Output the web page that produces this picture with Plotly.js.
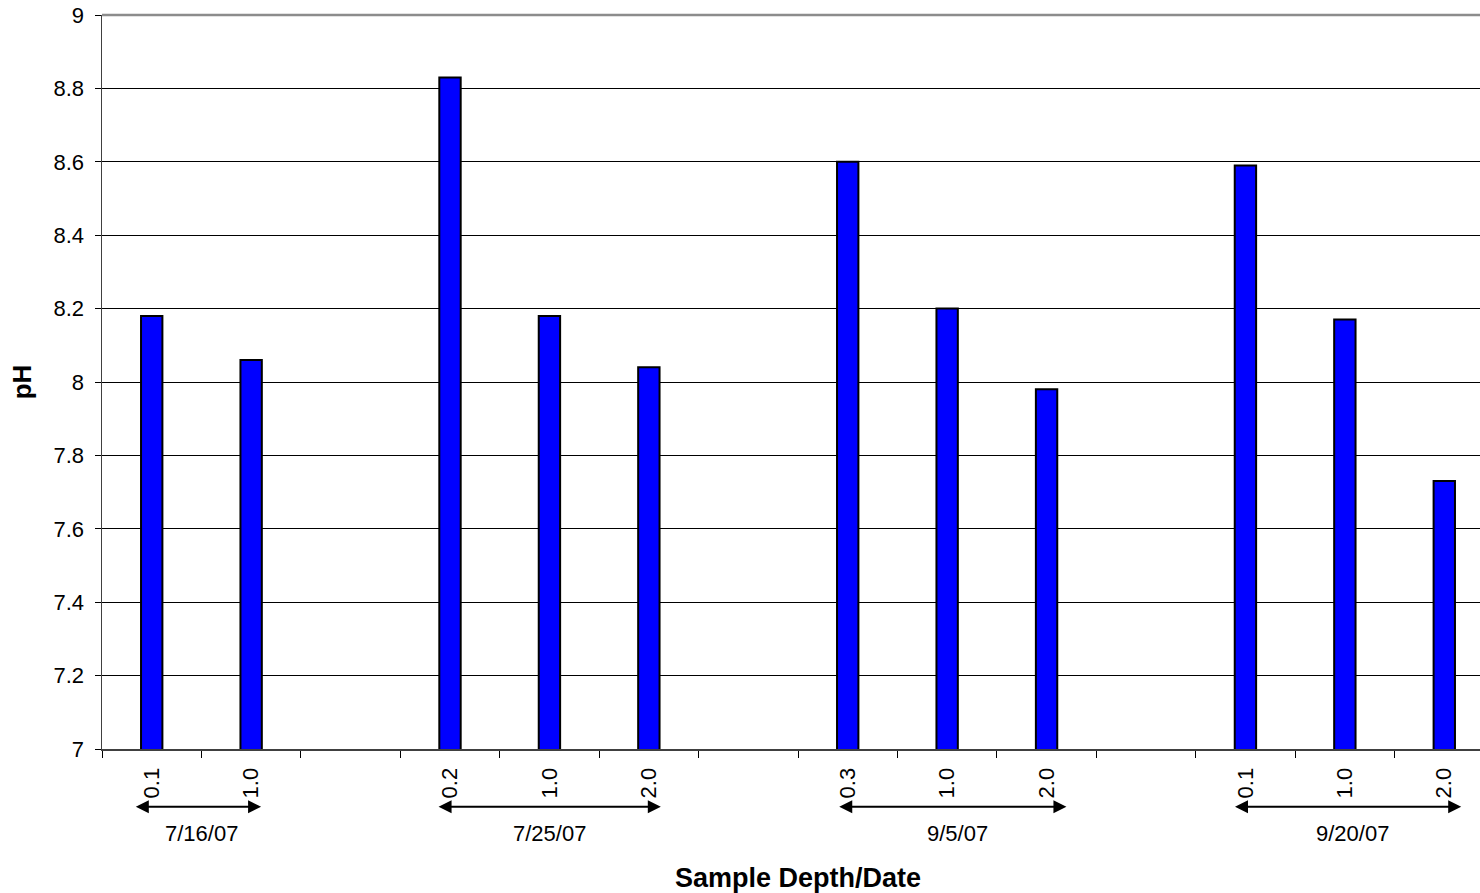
<!DOCTYPE html>
<html>
<head>
<meta charset="utf-8">
<script src="https://cdn.plot.ly/plotly-3.0.1.min.js"></script>
<style>
html, body { margin: 0; padding: 0; overflow: hidden; background: #fff; }
#chart { width: 1494px; height: 893px; }
</style>
</head>
<body>
<div id="chart"></div>
<script>
// Data
const sampleDates = ['7/16/07', '7/16/07', '7/25/07', '7/25/07', '7/25/07', '9/5/07', '9/5/07', '9/5/07', '9/20/07', '9/20/07', '9/20/07'];
const sampleDepths = ['0.1', '1.0', '0.2', '1.0', '2.0', '0.3', '1.0', '2.0', '0.1', '1.0', '2.0'];
const pHValues = [8.18, 8.06, 8.83, 8.18, 8.04, 8.60, 8.20, 7.98, 8.59, 8.17, 7.73];
const dateGroups = ['7/16/07', '7/25/07', '9/5/07', '9/20/07'];

// Slot positions: one empty slot between date groups
const xPos = [];
let slot = 0;
sampleDates.forEach((d, i) => {
  if (i > 0 && d !== sampleDates[i - 1]) slot += 1;
  xPos.push(slot);
  slot += 1;
});
const nSlots = slot;

const trace = {
  type: 'bar',
  x: xPos,
  y: pHValues,
  width: 0.215,
  marker: { color: '#0000FF', line: { color: '#000000', width: 2 } },
  hoverinfo: 'x+y'
};

const font = 'Liberation Sans, Arial, sans-serif';
const annotations = [];
const shapes = [];

// Arrow extents (in slot units beyond first/last bar) and label offsets
const arrowPad = [[-0.175, 0.10], [-0.13, 0.12], [-0.10, 0.20], [-0.12, 0.17]];
const labelShift = [0, 0, 0.1, 0.08];
dateGroups.forEach((g, gi) => {
  const idx = xPos.filter((_, i) => sampleDates[i] === g);
  const first = Math.min(...idx), last = Math.max(...idx);
  const yArrow = -0.0786;
  annotations.push({
    xref: 'x', yref: 'paper', axref: 'x', ayref: 'pixel',
    x: last + arrowPad[gi][1], y: yArrow,
    ax: first + arrowPad[gi][0], ay: 0,
    showarrow: true, arrowside: 'end+start', arrowhead: 2, startarrowhead: 2,
    arrowsize: 1.3, startarrowsize: 1.3, arrowwidth: 2, arrowcolor: '#000',
    standoff: 0, startstandoff: 0, text: ''
  });
  annotations.push({
    xref: 'x', yref: 'paper',
    x: (first + last) / 2 + labelShift[gi], y: -0.1145,
    yanchor: 'middle', xanchor: 'center',
    text: g, showarrow: false,
    font: { family: font, size: 22, color: '#000' }
  });
});

// top border of plot area (gray)
shapes.push({
  type: 'line', xref: 'paper', yref: 'paper', x0: 0, x1: 1, y0: 1, y1: 1,
  line: { color: '#8c8c8c', width: 2.5 }
});

const layout = {
  width: 1494,
  height: 893,
  margin: { l: 102, r: 0, t: 15, b: 144 },
  paper_bgcolor: '#fff',
  plot_bgcolor: '#fff',
  showlegend: false,
  font: { family: font, color: '#000', size: 22 },
  xaxis: {
    range: [-0.5, nSlots - 0.5],
    tickmode: 'array',
    tickvals: xPos,
    ticktext: sampleDepths,
    tickangle: -90,
    ticks: 'outside',
    ticklen: 8,
    tickcolor: 'rgba(0,0,0,0)',
    tickfont: { family: font, size: 22, color: '#000' },
    showgrid: false,
    zeroline: false,
    showline: true,
    linecolor: '#404040',
    linewidth: 2,
    minor: { tick0: -0.5, dtick: 1, ticks: 'outside', ticklen: 7, tickcolor: '#000', tickwidth: 1, showgrid: false },
    title: { text: '<b>Sample Depth/Date</b>', font: { family: font, size: 27, color: '#000' }, standoff: 85 },
    fixedrange: true
  },
  yaxis: {
    range: [7, 9],
    tickmode: 'linear',
    tick0: 7,
    dtick: 0.2,
    ticks: 'outside',
    ticklen: 6,
    tickcolor: '#000',
    ticklabelstandoff: 6,
    tickfont: { family: font, size: 22, color: '#000' },
    showgrid: true,
    gridcolor: '#000',
    gridwidth: 1,
    zeroline: false,
    showline: true,
    linecolor: '#404040',
    linewidth: 1.5,
    title: { text: '<b>pH</b>', font: { family: font, size: 26, color: '#000' }, standoff: 14 },
    fixedrange: true
  },
  annotations: annotations,
  shapes: shapes,
  bargap: 0
};

Plotly.newPlot('chart', [trace], layout, { displayModeBar: false, staticPlot: true });
</script>
</body>
</html>
